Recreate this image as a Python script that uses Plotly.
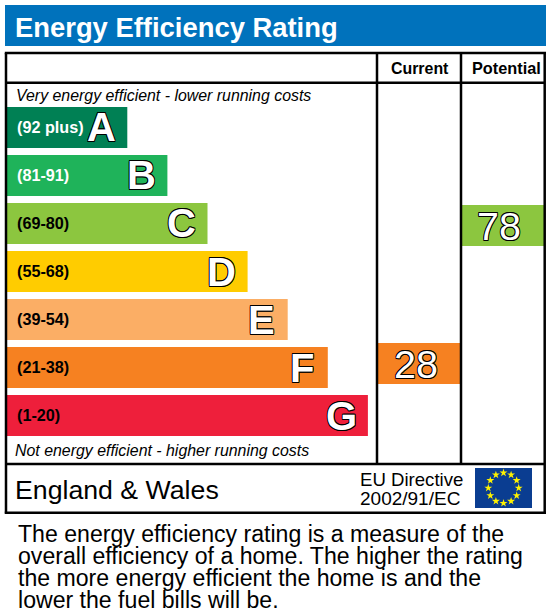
import plotly.graph_objects as go

W, H = 549, 613
title = "Energy Efficiency Rating"
bands = ["A", "B", "C", "D", "E", "F", "G"]
ranges = ["(92 plus)", "(81-91)", "(69-80)", "(55-68)", "(39-54)", "(21-38)", "(1-20)"]
lengths = [3, 4, 5, 6, 7, 8, 9]
band_colors = ["#008054", "#1fb35a", "#8cc63f", "#ffcc00", "#fbae65", "#f68121", "#ee1f3b"]
range_colors = ["white", "white", "black", "black", "black", "black", "black"]
columns = ["Current", "Potential"]
scores = [28, 78]
score_colors = ["#f68121", "#8cc63f"]
top_note = "Very energy efficient - lower running costs"
bottom_note = "Not energy efficient - higher running costs"
region = "England & Wales"
directive = ["EU Directive", "2002/91/EC"]
star_angles = [0, 30, 60, 90, 120, 150, 180, 210, 240, 270, 300, 330]
paragraph = [
    "The energy efficiency rating is a measure of the",
    "overall efficiency of a home. The higher the rating",
    "the more energy efficient the home is and the",
    "lower the fuel bills will be.",
]

FONT = "Liberation Sans"
OUTLINE = "0.8px 0 0 #000, -0.8px 0 0 #000, 0 0.8px 0 #000, 0 -0.8px 0 #000, 0.7px 0.7px 0 #000, -0.7px -0.7px 0 #000, 0.7px -0.7px 0 #000, -0.7px 0.7px 0 #000"


def px(x):
    return x / W


def py(y):
    return 1 - y / H


fig = go.Figure()

fig.add_trace(go.Bar(
    x=lengths, y=bands, orientation="h", marker=dict(color=band_colors, line_width=0),
    width=41 / 48, xaxis="x", yaxis="y", hoverinfo="skip", showlegend=False,
))

UNIT_H = 41 / 2.76
fig.add_trace(go.Bar(
    x=columns, y=[UNIT_H] * 2, base=[s - UNIT_H / 2 for s in scores],
    marker=dict(color=score_colors, line_width=0), width=1,
    xaxis="x2", yaxis="y2", hoverinfo="skip", showlegend=False,
))

fig.add_trace(go.Scatterpolar(
    r=[0.76] * len(star_angles), theta=star_angles, mode="markers",
    marker=dict(symbol="star", size=6, color="#fff200", line_width=0),
    subplot="polar", hoverinfo="skip", showlegend=False,
))

ann = []


def text(x, y, s, size, color="black", anchor="left", bold=False, italic=False):
    f = dict(family=FONT, size=size, color=color, weight=700 if bold else 400,
             style="italic" if italic else "normal")
    ann.append(dict(x=px(x), y=py(y), xref="paper", yref="paper", text=s, showarrow=False,
                    xanchor=anchor, yanchor="middle", align=anchor, font=f, borderpad=0, borderwidth=0))


text(15, 27, title, 27.4, color="white", bold=True)
text(419.5, 68, columns[0], 15.9, bold=True, anchor="center")
text(506, 68, columns[1], 16.3, bold=True, anchor="center")
text(16, 96, top_note, 15.9, italic=True)
text(15, 450, bottom_note, 15.9, italic=True)
text(15, 490, region, 26.7)
text(360, 479, directive[0], 18.6)
text(360, 498, directive[1], 19)
for i, line in enumerate(paragraph):
    text(17.5, 534 + i * 22, line, 23.1)

for b, r, c, v in zip(bands, ranges, range_colors, lengths):
    ann.append(dict(x=0, y=b, xref="x", yref="y", text=r, showarrow=False, xanchor="left", yanchor="middle",
                    xshift=8, yshift=0.5, font=dict(family=FONT, size=16.2, color=c, weight=700)))
    ann.append(dict(x=v, y=b, xref="x", yref="y", text=b, showarrow=False, xanchor="center", yanchor="middle",
                    xshift=-26, font=dict(family=FONT, size=40, color="white", weight=700, shadow=OUTLINE)))
for c, s in zip(columns, scores):
    ann.append(dict(x=c, y=s, xref="x2", yref="y2", text=str(s), showarrow=False, xanchor="center", yanchor="middle",
                    xshift=-3.5, font=dict(family=FONT, size=39.5, color="white", shadow=OUTLINE)))

ln = dict(color="black", width=2.5)
shapes = [
    dict(type="rect", xref="paper", yref="paper", x0=px(5), x1=px(546), y0=py(46), y1=py(5),
         fillcolor="#0072bc", line_width=0, layer="below"),
    dict(type="rect", xref="paper", yref="paper", x0=px(475), x1=px(532), y0=py(508), y1=py(468),
         fillcolor="#0a3d91", line_width=0, layer="below"),
]
for x0, y0, x1, y1 in [
    (6, 53, 6, 513.5), (544.7, 53, 544.7, 513.5), (4.8, 53, 546, 53), (4.8, 512.7, 546, 512.7),
    (6, 82.7, 545, 82.7), (6, 464, 545, 464), (377, 53, 377, 464), (461, 53, 461, 464),
]:
    shapes.append(dict(type="line", xref="paper", yref="paper", x0=px(x0), x1=px(x1), y0=py(y0), y1=py(y1), line=ln, layer="above"))

hidden = dict(visible=False, fixedrange=True)
fig.update_layout(
    width=W, height=H, margin=dict(l=0, r=0, t=0, b=0), paper_bgcolor="white", plot_bgcolor="rgba(0,0,0,0)",
    autosize=False, barmode="overlay",
    xaxis=dict(hidden, domain=[px(7), px(7 + 370)], range=[0, 370 / 40.1]),
    yaxis=dict(hidden, domain=[py(439.5), py(103.5)], categoryorder="array", categoryarray=bands[::-1]),
    xaxis2=dict(hidden, domain=[px(378), px(544.5)], categoryorder="array", categoryarray=columns, range=[-0.5, 1.5]),
    yaxis2=dict(hidden, domain=[py(463), py(84)], range=[28 - 99.5 / 2.76, 28 + 279.5 / 2.76]),
    polar=dict(domain=dict(x=[px(483.5), px(523.5)], y=[py(508), py(468)]), bgcolor="rgba(0,0,0,0)",
               radialaxis=dict(visible=False, range=[0, 1]), angularaxis=dict(visible=False)),
    shapes=shapes, annotations=ann,
)
fig.write_html("out.html", config=dict(displayModeBar=False),
               post_script="document.body.style.margin='0';document.body.style.overflow='hidden';")
